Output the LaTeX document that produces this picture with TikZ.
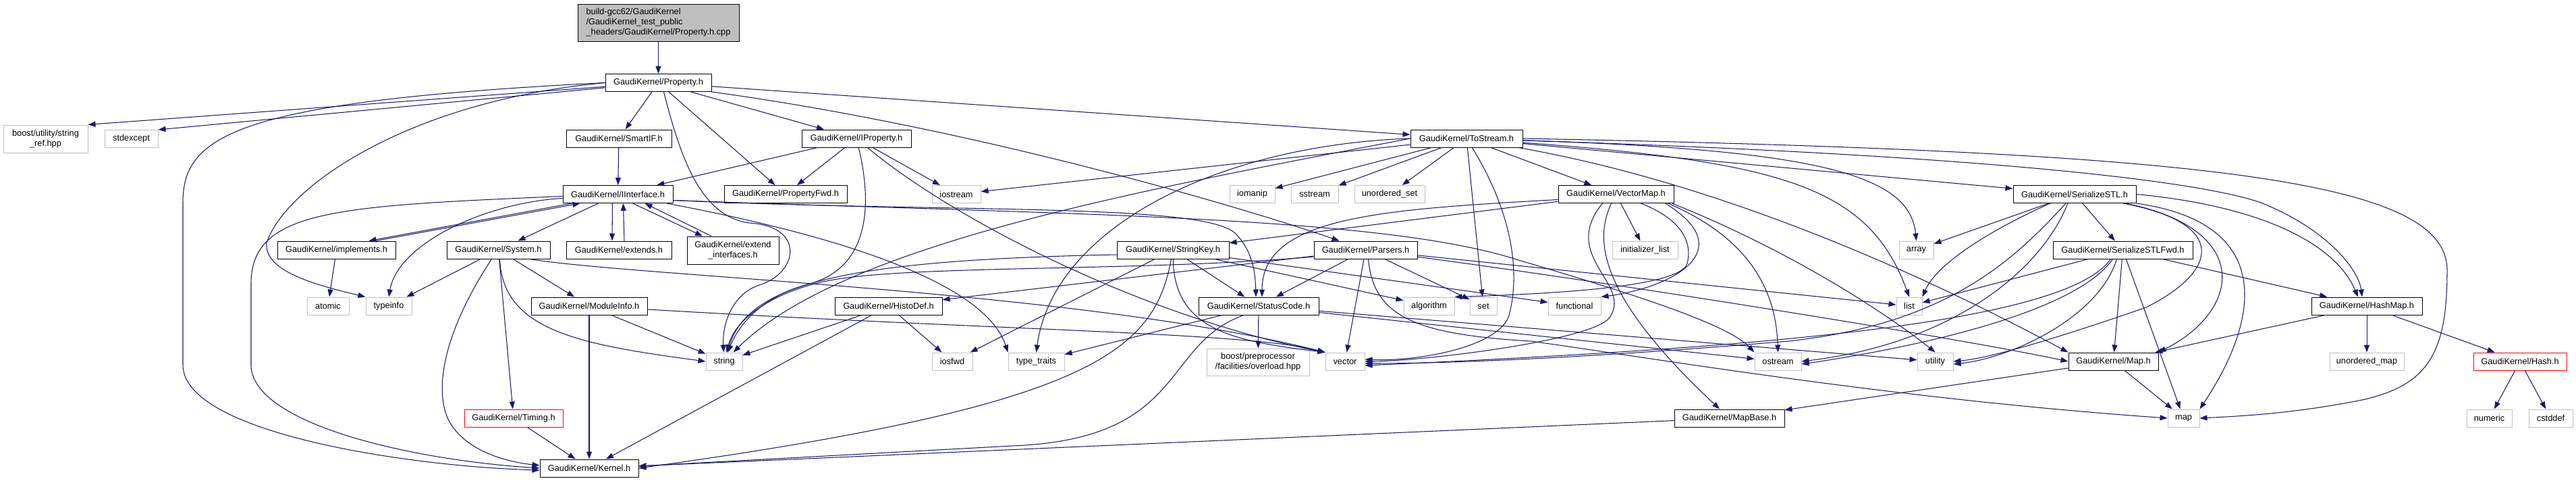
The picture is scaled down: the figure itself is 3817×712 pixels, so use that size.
\documentclass[tikz,border=0pt]{standalone}
\usepackage{fontspec}
\setmainfont{Liberation Sans}
\usetikzlibrary{arrows.meta}
\definecolor{edgec}{HTML}{191970}
\definecolor{gry}{HTML}{BFBFBF}
\newcommand{\gfont}{\fontsize{12.8}{15}\selectfont}
\begin{document}
\begin{tikzpicture}[x=1pt,y=-1pt,
  box/.style={draw=black, fill=white, line width=1pt, inner sep=0pt, minimum height=26pt, font=\gfont, align=center, text=black},
  sys/.style={box, draw=gry},
  redb/.style={box, draw=red},
  wd/.style={minimum width=#1pt},
  ht/.style={minimum height=#1pt},
  dep/.style={draw=edgec, line width=1.05pt, -{Triangle[length=11pt,width=8pt]}},
]
\fill[white] (0,0) rectangle (3817,712);
\useasboundingbox (0,0) rectangle (3817,712);

% ---------- nodes ----------
\node[box, fill=gry, wd=239, ht=55, align=left] (top) at (975.5,33.5) {build-gcc62/GaudiKernel\\/GaudiKernel\_test\_public\\\_headers/GaudiKernel/Property.h.cpp};
\node[box, wd=157] (prop) at (975.5,122.5) {GaudiKernel/Property.h};

\node[sys, wd=125, ht=41] (boostsr) at (67.5,205.5) {boost/utility/string\\\_ref.hpp};
\node[sys, wd=79] (stdexc) at (194.5,205.5) {stdexcept};
\node[box, wd=156] (smartif) at (917,205) {GaudiKernel/SmartIF.h};
\node[box, wd=162] (iprop) at (1269,205) {GaudiKernel/IProperty.h};
\node[box, wd=166] (tostream) at (2173,205) {GaudiKernel/ToStream.h};

\node[box, wd=163] (iface) at (915.5,287.5) {GaudiKernel/IInterface.h};
\node[box, wd=182] (pfwd) at (1164,287.5) {GaudiKernel/PropertyFwd.h};
\node[sys, wd=72] (iostream) at (1417,287.5) {iostream};
\node[sys, wd=67] (iomanip) at (1855.5,287.5) {iomanip};
\node[sys, wd=70] (sstream) at (1948,287.5) {sstream};
\node[sys, wd=104] (uset) at (2059,287.5) {unordered\_set};
\node[box, wd=171] (vmap) at (2394.5,287.5) {GaudiKernel/VectorMap.h};
\node[box, wd=182] (sstl) at (3074,287.5) {GaudiKernel/SerializeSTL.h};

\node[box, wd=175] (impl) at (498.5,370) {GaudiKernel/implements.h};
\node[box, wd=153] (system) at (738.5,370) {GaudiKernel/System.h};
\node[box, wd=156] (extends) at (917,370) {GaudiKernel/extends.h};
\node[box, wd=136, ht=41] (extif) at (1086,370.5) {GaudiKernel/extend\\\_interfaces.h};
\node[box, wd=166] (skey) at (1738,370) {GaudiKernel/StringKey.h};
\node[box, wd=153] (parsers) at (2023.5,370) {GaudiKernel/Parsers.h};
\node[sys, wd=97] (initl) at (2437.5,370) {initializer\_list};
\node[sys, wd=51] (narray) at (2839.5,370) {array};
\node[box, wd=207] (sstlfwd) at (3145.5,370) {GaudiKernel/SerializeSTLFwd.h};

\node[sys, wd=62] (atomic) at (486,453) {atomic};
\node[sys, wd=68] (typeinfo) at (576,453) {typeinfo};
\node[box, wd=172] (modinfo) at (873,453) {GaudiKernel/ModuleInfo.h};
\node[box, wd=159] (histodef) at (1316.5,453) {GaudiKernel/HistoDef.h};
\node[box, wd=178] (status) at (1865,453) {GaudiKernel/StatusCode.h};
\node[sys, wd=75] (algo) at (2117.5,453) {algorithm};
\node[sys, wd=40] (nset) at (2198,453) {set};
\node[sys, wd=78] (func) at (2333,453) {functional};
\node[sys, wd=38] (nlist) at (2829,453) {list};
\node[box, wd=164] (hashmap) at (3507,453) {GaudiKernel/HashMap.h};

\node[sys, wd=54] (nstring) at (1073,535) {string};
\node[sys, wd=60] (iosfwd) at (1411,535) {iosfwd};
\node[sys, wd=83] (tt) at (1535.5,535) {type\_traits};
\node[sys, wd=152, ht=40] (bpp) at (1864,536) {boost/preprocessor\\/facilities/overload.hpp};
\node[sys, wd=58] (nvector) at (1993,535) {vector};
\node[sys, wd=69] (ostream) at (2634.5,535) {ostream};
\node[sys, wd=53] (utility) at (2867.5,535) {utility};
\node[box, wd=133] (maph) at (3131.5,535) {GaudiKernel/Map.h};
\node[sys, wd=110] (umap) at (3507,535) {unordered\_map};
\node[redb, wd=138] (hash) at (3734,535) {GaudiKernel/Hash.h};

\node[redb, wd=146] (timing) at (761,619) {GaudiKernel/Timing.h};
\node[box, wd=163] (mapbase) at (2562.5,619) {GaudiKernel/MapBase.h};
\node[sys, wd=47] (nmap) at (3235.5,619) {map};
\node[sys, wd=67] (numeric) at (3688.5,619) {numeric};
\node[sys, wd=65] (cstddef) at (3779.5,619) {cstddef};

\node[box, wd=146] (kernel) at (873,693) {GaudiKernel/Kernel.h};

% ---------- edges ----------
\draw[dep] (top) -- (prop);
% Property.h
\draw[dep] (prop) -- (boostsr.north east);
\draw[dep] (prop) -- (stdexc.north east);
\draw[dep] (prop.west) .. controls (350,150) and (271,200) .. (271,300) -- (271,540) .. controls (271,640) and (600,690) .. ([yshift=-3pt]kernel.west);
\draw[dep] (prop.west) .. controls (600,150) and (420,280) .. (395,360) .. controls (392,400) and (460,420) .. (typeinfo.north west);
\draw[dep] ([xshift=8pt]prop.south) .. controls (1010,240) and (1040,320) .. (1110,330) .. controls (1195,335) and (1182,405) .. (1125,422) .. controls (1085,435) and (1070,480) .. (nstring);
\draw[dep] (prop) -- (smartif);
\draw[dep] (prop) -- (pfwd);
\draw[dep] (prop) -- (iprop);
\draw[dep] (prop.south east) .. controls (1450,190) and (1850,310) .. (parsers);
\draw[dep] (prop) -- (tostream);
% SmartIF
\draw[dep] (smartif) -- (iface);
% IProperty
\draw[dep] (iprop) -- (iface);
\draw[dep] (iprop) -- (pfwd);
\draw[dep] (iprop) -- (iostream);
\draw[dep] (iprop) .. controls (1292,300) and (1290,395) .. (1200,420) .. controls (1130,438) and (1095,480) .. (nstring);
\draw[dep] (iprop) .. controls (1420,330) and (1700,470) .. (nvector.north west);
% IInterface
\draw[dep] ([xshift=14pt]iface.south west) -- ([xshift=136pt]impl.north west);
\draw[dep] ([xshift=146pt]impl.north west) -- ([xshift=26pt]iface.south west);
\draw[dep] ([xshift=-8pt]iface.south) -- ([xshift=-10pt]extends.north);
\draw[dep] ([xshift=8pt]extends.north) -- ([xshift=8pt]iface.south);
\draw[dep] ([xshift=22pt]iface.south) -- ([xshift=-45pt]extif.north);
\draw[dep] ([xshift=-32pt]extif.north) -- ([xshift=40pt]iface.south);
\draw[dep] (iface) -- (system);
\draw[dep] ([yshift=-6pt]iface.west) .. controls (720,300) and (590,360) .. (typeinfo.north);
\draw[dep] ([yshift=-3pt]iface.west) .. controls (500,305) and (372,310) .. (372,420) -- (372,540) .. controls (372,625) and (600,680) .. (kernel.west);
\draw[dep] ([yshift=-9pt]iface.east) .. controls (1400,315) and (1780,300) .. (1830,345) .. controls (1855,370) and (1860,400) .. ([xshift=-4pt]status.north);
\draw[dep] ([yshift=-9pt]iface.east) .. controls (1600,318) and (2050,320) .. (2250,385) .. controls (2420,435) and (2560,480) .. (ostream.north west);
\draw[dep] (iface) .. controls (1250,350) and (1460,420) .. (tt.north west);
% implements
\draw[dep] (impl) -- (atomic);
% System
\draw[dep] (system) -- (typeinfo);
\draw[dep] ([xshift=-10pt]system.south) .. controls (665,480) and (645,560) .. (660,610) .. controls (672,650) and (720,680) .. ([yshift=4pt]kernel.west);
\draw[dep] (system) -- (timing);
\draw[dep] (system) -- (modinfo);
\draw[dep] ([xshift=2pt]system.south) .. controls (745,490) and (860,510) .. (nstring.west);
\draw[dep] ([xshift=-31pt]system.south east) .. controls (950,410) and (1600,430) .. (nvector.north west);
% ModuleInfo
\draw[dep] (modinfo) -- (kernel);
\draw[dep] (modinfo) -- (nstring);
\draw[dep] ([yshift=-5pt]modinfo.east) .. controls (1500,490) and (1850,492) .. (nvector.north west);
% Timing
\draw[dep] (timing) -- (kernel);
% HistoDef
\draw[dep] (histodef) -- (nstring);
\draw[dep] (histodef) -- (kernel);
\draw[dep] (histodef) -- (iosfwd);
% StringKey
\draw[dep] ([yshift=-7pt]skey.west) .. controls (1250,385) and (1110,420) .. (nstring);
\draw[dep] (skey) -- (iosfwd);
\draw[dep] (skey) .. controls (1710,520) and (1620,600) .. (kernel.east);
\draw[dep] (skey) -- (status);
\draw[dep] (skey) -- (algo);
\draw[dep] (skey) -- (func);
\draw[dep] (skey) .. controls (1740,490) and (1830,505) .. (nvector.north west);
% Parsers
\draw[dep] (parsers) -- (histodef);
\draw[dep] ([yshift=-10pt]parsers.west) .. controls (1700,402) and (1350,392) .. (1230,415) .. controls (1150,430) and (1090,470) .. (nstring);
\draw[dep] (parsers) -- (status);
\draw[dep] (parsers) -- (nvector);
\draw[dep] (parsers) -- (nset);
\draw[dep] (parsers) -- (nlist);
\draw[dep] (parsers) .. controls (2400,420) and (2900,500) .. (maph.west);
\draw[dep] ([xshift=4pt]parsers.south) .. controls (2035,470) and (2100,495) .. (2268,505) .. controls (2450,530) and (2800,590) .. (nmap.west);
% VectorMap
\draw[dep] (vmap) -- (skey);
\draw[dep] ([yshift=-8pt]vmap.west) .. controls (2050,310) and (1870,320) .. ([xshift=5pt]status.north);
\draw[dep] ([xshift=-20pt]vmap.south) .. controls (2310,380) and (2420,420) .. (2385,470) .. controls (2360,505) and (2100,535) .. (nvector.east);
\draw[dep] ([xshift=-7pt]vmap.south) .. controls (2365,350) and (2360,430) .. (mapbase);
\draw[dep] (vmap) -- (initl);
\draw[dep] ([xshift=37pt]vmap.south) .. controls (2480,320) and (2510,350) .. (2500,390) .. controls (2490,425) and (2300,435) .. (algo.north east);
\draw[dep] ([xshift=73pt]vmap.south) .. controls (2580,370) and (2480,425) .. (func.north east);
\draw[dep] ([xshift=77pt]vmap.south) .. controls (2610,360) and (2632,450) .. (ostream.north);
\draw[dep] ([xshift=83pt]vmap.south) .. controls (2650,370) and (2790,460) .. (utility.north);
% ToStream
\draw[dep] (tostream) -- (iostream);
\draw[dep] (tostream.west) .. controls (1700,280) and (1250,360) .. (nstring);
\draw[dep] (tostream.west) .. controls (1800,215) and (1560,340) .. (tt.north);
\draw[dep] (tostream) -- (iomanip);
\draw[dep] (tostream) -- (sstream);
\draw[dep] (tostream) -- (uset);
\draw[dep] (tostream) -- (nset);
\draw[dep] (tostream) .. controls (2250,330) and (2250,420) .. (2235,470) .. controls (2215,515) and (2100,535) .. ([yshift=3pt]nvector.east);
\draw[dep] (tostream) -- (vmap);
\draw[dep] (tostream) -- (sstl);
\draw[dep] (tostream) .. controls (2600,280) and (2930,450) .. (maph.north west);
\draw[dep] (tostream) .. controls (2650,240) and (2770,280) .. (nlist.north);
\draw[dep] (tostream) .. controls (2700,222) and (2830,260) .. (narray.north);
\draw[dep] ([yshift=-3pt]tostream.east) .. controls (2900,228) and (3250,265) .. (3350,300) .. controls (3450,340) and (3495,400) .. ([xshift=-7pt]hashmap.north);
\draw[dep] (tostream.east) .. controls (3300,225) and (3626,270) .. (3626,400) .. controls (3626,520) and (3600,570) .. (3500,592) .. controls (3400,612) and (3320,616) .. (nmap.east);
% SerializeSTL
\draw[dep] (sstl) -- (narray);
\draw[dep] ([xshift=-36pt]sstl.south) .. controls (2950,340) and (2870,390) .. (nlist.north east);
\draw[dep] ([xshift=-13pt]sstl.south) .. controls (2980,390) and (2880,480) .. (2650,505) .. controls (2350,530) and (2150,538) .. ([yshift=-3pt]nvector.east);
\draw[dep] ([xshift=-10pt]sstl.south) .. controls (3020,410) and (2880,510) .. (ostream.east);
\draw[dep] (sstl) -- (sstlfwd);
\draw[dep] ([xshift=72pt]sstl.south) .. controls (3300,330) and (3290,400) .. (3180,455) .. controls (3050,500) and (2950,530) .. (utility.east);
\draw[dep] ([xshift=76pt]sstl.south) .. controls (3340,340) and (3320,460) .. (maph.north east);
\draw[dep] (sstl.south east) .. controls (3370,330) and (3350,470) .. (nmap.north east);
\draw[dep] (sstl.east) .. controls (3350,305) and (3460,360) .. ([xshift=-13pt]hashmap.north);
% SerializeSTLFwd
\draw[dep] (sstlfwd) -- (nlist);
\draw[dep] ([xshift=-18pt]sstlfwd.south) .. controls (3060,480) and (2600,515) .. ([yshift=-6pt]nvector.east);
\draw[dep] ([xshift=-15pt]sstlfwd.south) .. controls (3070,470) and (2800,520) .. ([yshift=-4pt]ostream.east);
\draw[dep] ([xshift=-9pt]sstlfwd.south) .. controls (3110,470) and (2980,530) .. ([yshift=-4pt]utility.east);
\draw[dep] (sstlfwd) -- (maph);
\draw[dep] (sstlfwd) -- (nmap);
\draw[dep] (sstlfwd) -- (hashmap);
% HashMap
\draw[dep] (hashmap) -- (maph);
\draw[dep] (hashmap) -- (umap);
\draw[dep] (hashmap) -- (hash);
% Map
\draw[dep] (maph) -- (nmap);
\draw[dep] (maph) -- (mapbase);
% MapBase
\draw[dep] (mapbase) -- (kernel);
% Hash
\draw[dep] (hash) -- (numeric);
\draw[dep] (hash) -- (cstddef);
% StatusCode
\draw[dep] (status) -- (bpp);
\draw[dep] (status) -- (tt);
\draw[dep] ([xshift=-22pt]status.south) .. controls (1720,510) and (1760,650) .. (1500,660) -- ([yshift=3pt]kernel.east);
\draw[dep] (status) -- (ostream);
\draw[dep] (status) -- (utility);
\end{tikzpicture}
\end{document}
